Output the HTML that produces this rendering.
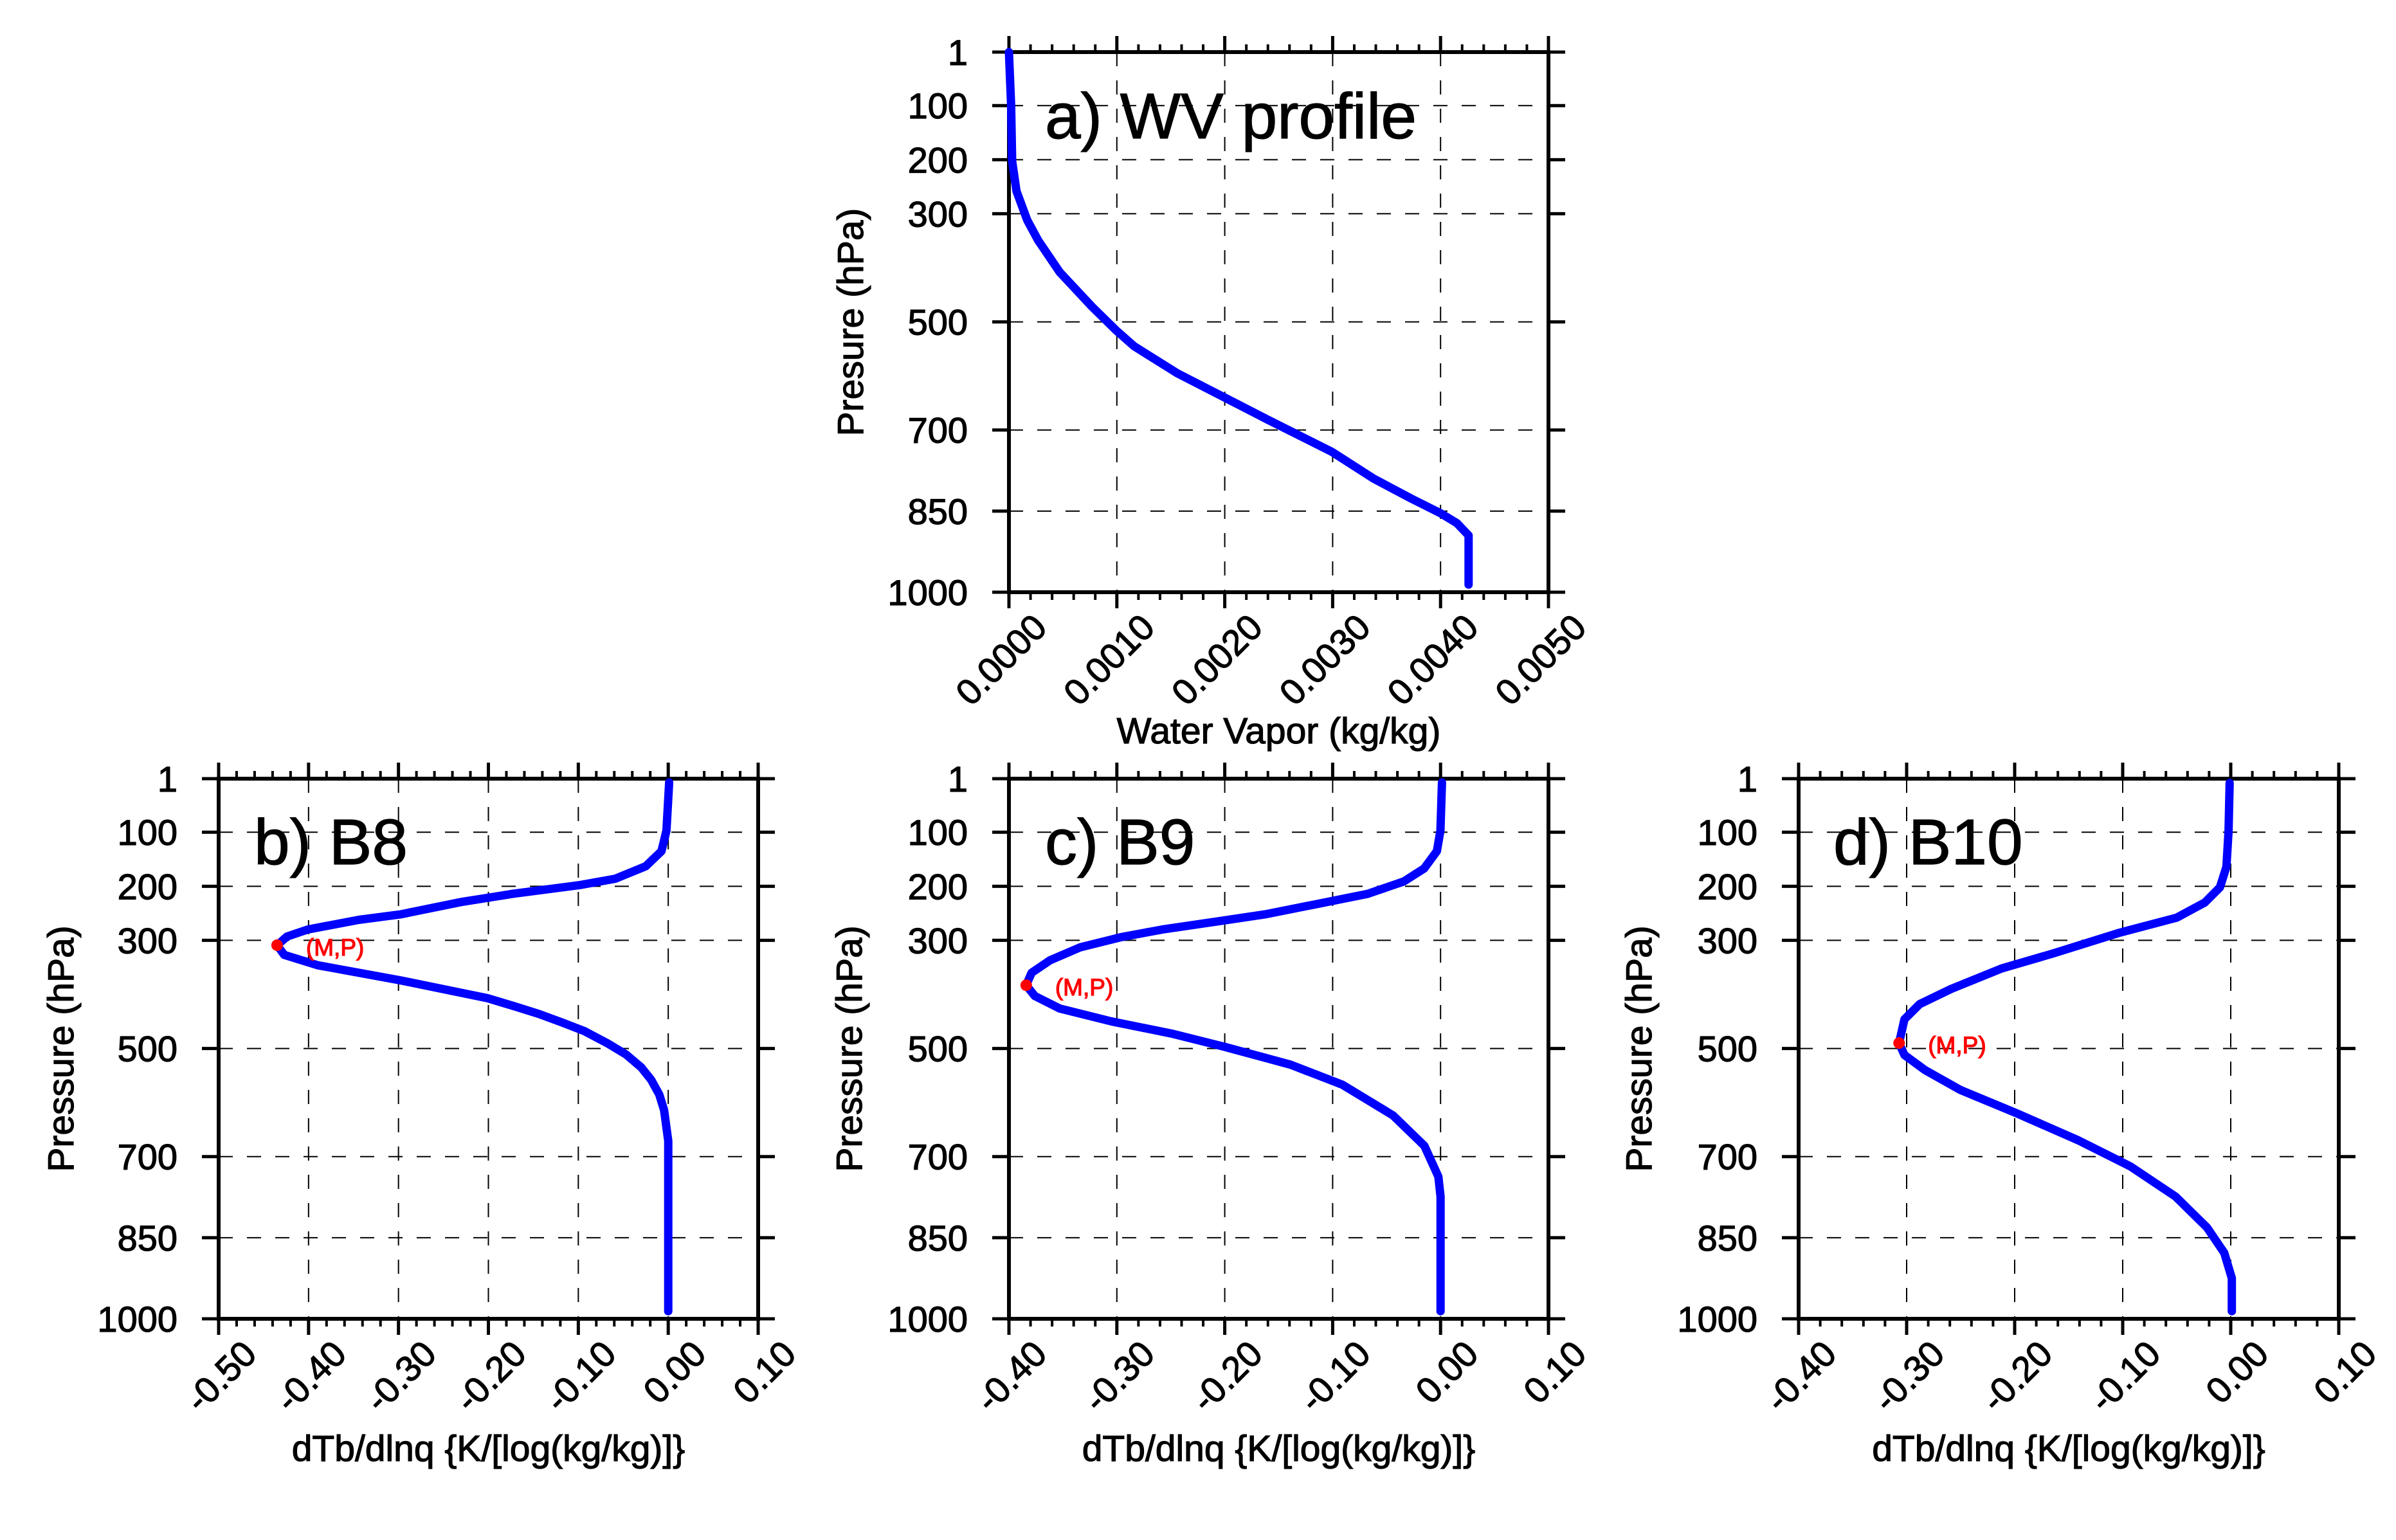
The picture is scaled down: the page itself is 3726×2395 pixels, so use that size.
<!DOCTYPE html>
<html><head><meta charset="utf-8"><style>
html,body{margin:0;padding:0;background:#fff;}
svg text{font-family:"Liberation Sans",sans-serif;fill:#000;stroke:#000;stroke-width:1.2px;}
</style></head><body>
<svg id="fig" width="3726" height="2390" viewBox="0 0 3726 2390" xmlns="http://www.w3.org/2000/svg"></svg>
<script>
// ---- data ----
const pressureTicks = [1,100,200,300,500,700,850,1000];
const pressureTickLabels = ["1","100","200","300","500","700","850","1000"];

const wvTicks = [0,0.001,0.002,0.003,0.004,0.005];
const wvTickLabels = ["0.0000","0.0010","0.0020","0.0030","0.0040","0.0050"];
const wvP = [1,100,203,258,312,349,408,472,515,545,595,640,681,740,790,827,854,872,895,986];
const wvQ = [0,0.00002,0.00003,0.00007,0.00017,0.00027,0.00047,0.00077,0.00099,0.00116,0.00156,0.002,0.0024,0.00299,0.00338,0.00373,0.004,0.00415,0.00426,0.00426];

const b8Ticks = [-0.5,-0.4,-0.3,-0.2,-0.1,0,0.1];
const b8TickLabels = ["-0.50","-0.40","-0.30","-0.20","-0.10","0.00","0.10"];
const b8P = [8,97,135,163,186,198,214,229,252,262,280,293,309,327,346,374,407,422,436,452,468,490,511,535,558,585,614,671,986];
const b8X = [0.001,-0.002,-0.0075,-0.025,-0.059,-0.099,-0.173,-0.23,-0.298,-0.344,-0.401,-0.424,-0.435,-0.427,-0.39,-0.298,-0.201,-0.171,-0.144,-0.118,-0.093,-0.068,-0.047,-0.03,-0.019,-0.01,-0.0046,0,0];
const b8Peak = [-0.435,309];

const b9Ticks = [-0.4,-0.3,-0.2,-0.1,0,0.1];
const b9TickLabels = ["-0.40","-0.30","-0.20","-0.10","0.00","0.10"];
const b9P = [8,97,135,167,191,214,233,252,263,280,294,313,337,360,383,403,426,450,473,497,530,567,624,680,737,774,986];
const b9X = [0.0013,-0.0001,-0.0034,-0.0152,-0.034,-0.0676,-0.115,-0.163,-0.2,-0.258,-0.296,-0.334,-0.362,-0.379,-0.384,-0.376,-0.353,-0.305,-0.248,-0.2,-0.139,-0.091,-0.044,-0.015,-0.002,0,0];
const b9Peak = [-0.384,383];

const b10Ticks = [-0.4,-0.3,-0.2,-0.1,0,0.1];
const b10TickLabels = ["-0.40","-0.30","-0.20","-0.10","0.00","0.10"];
const b10P = [9,98,164,202,230,258,286,324,352,390,418,446,490,512,540,577,620,670,718,774,831,878,925,986];
const b10X = [-0.001,-0.002,-0.004,-0.010,-0.024,-0.050,-0.103,-0.164,-0.212,-0.259,-0.288,-0.302,-0.307,-0.302,-0.283,-0.25,-0.198,-0.141,-0.093,-0.051,-0.022,-0.006,0.001,0.001];
const b10Peak = [-0.307,490];

const NS = "http://www.w3.org/2000/svg";
const svg = document.getElementById('fig');
function mk(tag, attrs, parent){
  const e = document.createElementNS(NS, tag);
  for (const k in attrs) e.setAttribute(k, attrs[k]);
  (parent||svg).appendChild(e);
  return e;
}

function panel(opt){
  const g = mk('g', {});
  
  
  const L=opt.left, R=opt.right, T=opt.top, B=opt.bottom;
  const xmin=opt.xt[0], xmax=opt.xt[opt.xt.length-1];
  const sx = v => L + (v-xmin)/(xmax-xmin)*(R-L);
  const sy = p => T + (p-1)/999*(B-T);
  opt.xt.forEach((v,i)=>{
    if(i===0||i===opt.xt.length-1) return;
    const l = mk('line',{x1:sx(v),x2:sx(v),y1:T,y2:B,stroke:'#000','stroke-width':2,'stroke-dasharray':'22 22'},g);
    
    
  });
  pressureTicks.forEach((p,i)=>{
    if(i===0||i===pressureTicks.length-1) return;
    const l = mk('line',{x1:L,x2:R,y1:sy(p),y2:sy(p),stroke:'#000','stroke-width':2,'stroke-dasharray':'22 22'},g);
    
    
  });
  const step = opt.xt[1]-opt.xt[0];
  for(let i=0;i<opt.xt.length;i++){
    const v=opt.xt[i];
    mk('line',{x1:sx(v),x2:sx(v),y1:B,y2:B+25,stroke:'#000','stroke-width':5},g);
    mk('line',{x1:sx(v),x2:sx(v),y1:T,y2:T-25,stroke:'#000','stroke-width':5},g);
    if(i<opt.xt.length-1){
      for(let k=1;k<5;k++){
        const vv=v+step*k/5;
        mk('line',{x1:sx(vv),x2:sx(vv),y1:B,y2:B+12,stroke:'#000','stroke-width':4},g);
        mk('line',{x1:sx(vv),x2:sx(vv),y1:T,y2:T-12,stroke:'#000','stroke-width':4},g);
      }
    }
    const t = mk('text',{x:0,y:0,'font-size':56,'text-anchor':'end',transform:`translate(${sx(v)+62},${B+58}) rotate(-45)`},g);
    t.textContent = opt.xl[i];
    
    
  }
  pressureTicks.forEach((p,i)=>{
    mk('line',{x1:L-26,x2:L,y1:sy(p),y2:sy(p),stroke:'#000','stroke-width':5},g);
    mk('line',{x1:R,x2:R+26,y1:sy(p),y2:sy(p),stroke:'#000','stroke-width':5},g);
    const t = mk('text',{x:L-64,y:sy(p)+20,'font-size':56,'text-anchor':'end'},g);
    t.textContent = pressureTickLabels[i];
    
    
  });
  const fr = mk('rect',{x:L,y:T,width:R-L,height:B-T,fill:'none',stroke:'#000','stroke-width':6},g);
  
  
  const d = opt.xs.map((v,i)=>(i?'L':'M')+sx(v).toFixed(1)+' '+sy(opt.ps[i]).toFixed(1)).join(' ');
  const c = mk('path',{d:d,fill:'none',stroke:'#0000ff','stroke-width':13,'stroke-linejoin':'round','stroke-linecap':'round'},g);
  
  
  if(opt.peak){
    const dot = mk('circle',{cx:sx(opt.peak[0]),cy:sy(opt.peak[1]),r:9,fill:'#ff0000'},g);
    
    
    const lt = mk('text',{x:sx(opt.peak[0])+45,y:sy(opt.peak[1])+16,'font-size':37,style:'fill:#ff0000;stroke:#ff0000'},g);
    lt.textContent='(M,P)';
    
    
  }
  const pt = mk('text',{x:opt.titleX,y:opt.titleY,'font-size':opt.titleSize},g);
  pt.textContent = opt.title;
  
  
  const yt = mk('text',{x:0,y:0,'font-size':57,'text-anchor':'middle',transform:`translate(${opt.ytX+20},${(T+B)/2}) rotate(-90)`},g);
  yt.textContent=opt.ytitle;
  
  
  const xt = mk('text',{x:(L+R)/2,y:opt.xtY,'font-size':57,'text-anchor':'middle'},g);
  xt.textContent=opt.xtitle;
  
  
}

panel({name:'panel-a-wv-profile',left:1569,right:2408,top:81,bottom:921,xt:wvTicks,xl:wvTickLabels,xs:wvQ,ps:wvP,
  title:'a) WV profile',titleX:1625,titleY:215,titleSize:100,ytX:1322,ytitle:'Presure (hPa)',xtitle:'Water Vapor (kg/kg)',xtY:1156});
panel({name:'panel-b-b8',left:340,right:1179,top:1211,bottom:2051,xt:b8Ticks,xl:b8TickLabels,xs:b8X,ps:b8P,peak:b8Peak,
  title:'b) B8',titleX:395,titleY:1344,titleSize:100,ytX:94,ytitle:'Pressure (hPa)',xtitle:'dTb/dlnq {K/[log(kg/kg)]}',xtY:2272});
panel({name:'panel-c-b9',left:1569,right:2408,top:1211,bottom:2051,xt:b9Ticks,xl:b9TickLabels,xs:b9X,ps:b9P,peak:b9Peak,
  title:'c) B9',titleX:1625,titleY:1344,titleSize:100,ytX:1320,ytitle:'Pressure (hPa)',xtitle:'dTb/dlnq {K/[log(kg/kg)]}',xtY:2272});
panel({name:'panel-d-b10',left:2797,right:3637,top:1211,bottom:2051,xt:b10Ticks,xl:b10TickLabels,xs:b10X,ps:b10P,peak:b10Peak,
  title:'d) B10',titleX:2851,titleY:1344,titleSize:100,ytX:2548,ytitle:'Pressure (hPa)',xtitle:'dTb/dlnq {K/[log(kg/kg)]}',xtY:2272});
</script>
</body></html>
